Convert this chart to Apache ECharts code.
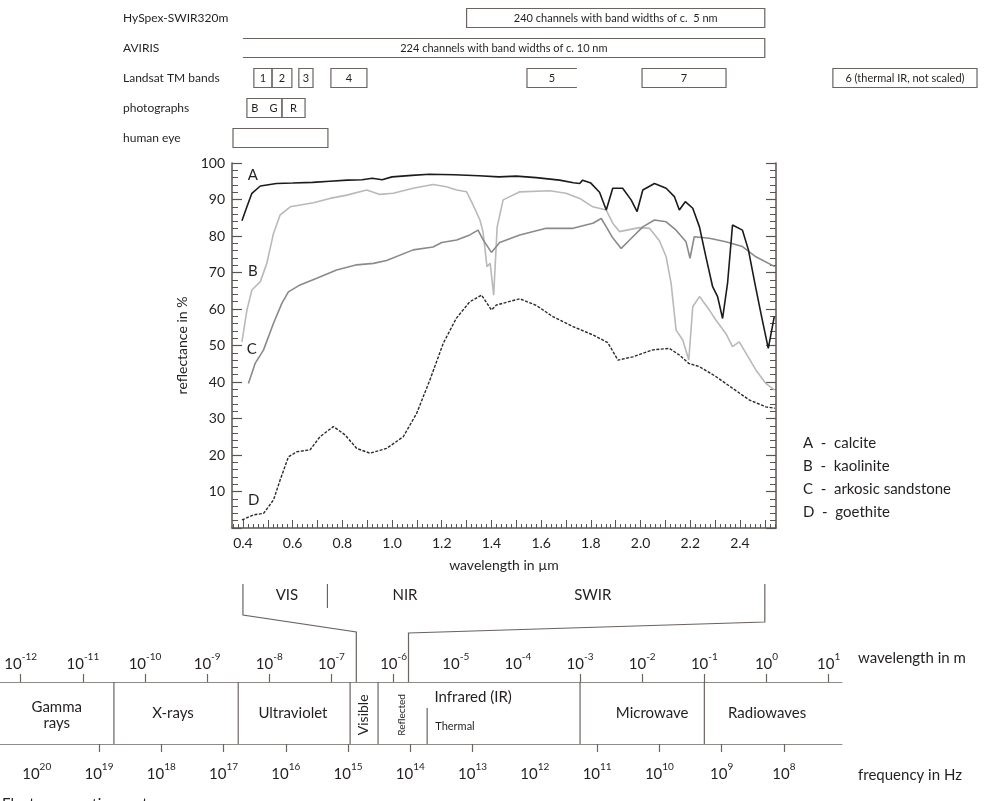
<!DOCTYPE html>
<html><head><meta charset="utf-8">
<script src="https://cdn.jsdelivr.net/npm/echarts@6/dist/echarts.min.js"></script>
<style>html,body{margin:0;padding:0;background:#fff}#c{width:986px;height:801px}</style>
</head><body><div id="c"></div>
<script>
const FONT = 'Lato';
const INK = '#231f20';
const AX = '#5b5551';
const LN = '#6b6461';

// ---------- reflectance spectra: [wavelength in µm, reflectance in %] ----------
const calcite = [[0.396,84.2],[0.416,88.0],[0.436,91.7],[0.47,93.7],[0.535,94.4],[0.60,94.5],[0.68,94.7],[0.75,95.0],[0.82,95.3],[0.88,95.4],[0.92,95.8],[0.96,95.4],[1.0,96.2],[1.08,96.6],[1.15,96.9],[1.25,96.8],[1.35,96.5],[1.43,96.2],[1.50,96.4],[1.58,96.0],[1.674,95.3],[1.73,94.6],[1.755,94.4],[1.767,95.3],[1.80,94.5],[1.835,92.0],[1.862,87.1],[1.888,93.1],[1.928,93.1],[1.962,89.9],[1.986,86.7],[2.009,92.6],[2.056,94.4],[2.103,93.1],[2.136,90.8],[2.156,87.1],[2.18,89.4],[2.21,87.6],[2.237,82.5],[2.263,74.3],[2.29,66.1],[2.31,63.4],[2.33,57.4],[2.35,67.0],[2.37,83.0],[2.41,81.6],[2.434,76.2],[2.46,67.0],[2.487,57.9],[2.514,49.2],[2.538,57.9]];
const kaolinite = [[0.396,51.0],[0.416,59.7],[0.436,65.2],[0.47,67.5],[0.496,72.5],[0.523,80.7],[0.55,85.8],[0.59,88.0],[0.684,89.1],[0.75,90.3],[0.818,91.2],[0.898,92.6],[0.951,91.4],[1.005,91.7],[1.085,93.1],[1.165,94.1],[1.219,93.5],[1.26,92.6],[1.30,92.1],[1.326,88.5],[1.353,84.5],[1.366,81.2],[1.382,71.6],[1.395,72.5],[1.409,63.8],[1.423,82.5],[1.447,89.9],[1.514,92.1],[1.634,92.4],[1.70,91.7],[1.755,90.3],[1.808,88.0],[1.862,87.1],[1.888,83.5],[1.915,81.2],[1.995,82.3],[2.036,82.1],[2.076,78.7],[2.103,74.3],[2.123,67.0],[2.143,54.2],[2.17,51.5],[2.194,46.0],[2.21,60.6],[2.237,63.4],[2.277,59.7],[2.303,57.0],[2.343,53.3],[2.37,49.7],[2.397,51.0],[2.424,47.9],[2.464,43.3],[2.504,39.6],[2.54,37.8]];
const arkosicSandstone = [[0.422,39.6],[0.449,45.1],[0.483,48.8],[0.523,56.1],[0.557,61.6],[0.583,64.7],[0.63,66.6],[0.697,68.4],[0.777,70.7],[0.858,72.1],[0.925,72.5],[0.978,73.3],[1.085,76.2],[1.165,77.0],[1.20,78.2],[1.26,78.9],[1.313,80.3],[1.346,81.6],[1.366,79.0],[1.40,75.5],[1.433,78.2],[1.514,80.3],[1.62,82.1],[1.728,82.1],[1.808,83.5],[1.842,84.8],[1.862,82.5],[1.888,79.5],[1.922,76.6],[1.962,79.3],[2.009,82.5],[2.056,84.4],[2.103,83.9],[2.143,81.6],[2.183,78.4],[2.199,73.9],[2.216,79.8],[2.277,79.4],[2.343,78.4],[2.41,77.1],[2.464,74.3],[2.54,71.6]];
const goethite = [[0.396,2.2],[0.443,3.6],[0.483,4.0],[0.523,7.7],[0.55,13.2],[0.583,19.5],[0.617,20.9],[0.67,21.4],[0.71,25.0],[0.764,27.8],[0.811,25.5],[0.858,21.8],[0.911,20.5],[0.978,21.8],[1.045,25.0],[1.099,31.4],[1.152,40.5],[1.206,50.6],[1.259,57.5],[1.313,62.0],[1.36,63.8],[1.40,59.7],[1.42,61.1],[1.514,62.8],[1.58,61.0],[1.647,57.9],[1.728,55.2],[1.808,52.9],[1.868,50.8],[1.909,46.0],[1.969,46.9],[2.049,48.8],[2.116,49.2],[2.156,47.4],[2.194,45.1],[2.237,44.2],[2.303,41.5],[2.37,38.3],[2.437,35.1],[2.504,33.2],[2.54,32.8]];

const curveTags = [['A',0.44,96.7],['B',0.44,70.5],['C',0.436,49.0],['D',0.443,7.5]];
const legendLines = ['A  -  calcite','B  -  kaolinite','C  -  arkosic sandstone','D  -  goethite'];

const wlLabelValues = [0.4,0.6,0.8,1.0,1.2,1.4,1.6,1.8,2.0,2.2,2.4];
const wlMajorTicks = [0.4,0.5,0.6,0.7,0.8,0.9,1.0,1.1,1.2,1.3,1.4,1.5,1.6,1.7,1.8,1.9,2.0,2.1,2.2,2.3,2.4,2.5];
const wlMinorTicks = [];
for (let i = 18; i <= 127; i++) { if (i % 5 !== 0) wlMinorTicks.push(+(i * 0.02).toFixed(2)); }

// ---------- sensors ----------
const sensorRows = ['HySpex-SWIR320m','AVIRIS','Landsat TM bands','photographs','human eye'];
// [start µm, end µm, row, text, open side]
const sensorBoxes = [
  [1.30, 2.50, 0, '240 channels with band widths of c.  5 nm', ''],
  [0.40, 2.50, 1, '224 channels with band widths of c. 10 nm', 'left'],
  [0.444, 0.517, 2, '1', ''],
  [0.517, 0.597, 2, '2', ''],
  [0.625, 0.682, 2, '3', ''],
  [0.754, 0.899, 2, '4', ''],
  [1.543, 1.744, 2, '5', 'right'],
  [2.006, 2.344, 2, '7', ''],
  [2.774, 3.354, 2, '6 (thermal IR, not scaled)', ''],
  [0.416, 0.557, 3, 'B    G', ''],
  [0.557, 0.650, 3, 'R', ''],
  [0.360, 0.742, 4, '', '']
];

// ---------- electromagnetic spectrum (log10 of wavelength in m / frequency in Hz) ----------
const emWlLabels = [-12,-11,-10,-9,-8,-7,-6,-5,-4,-3,-2,-1,0,1];
const emWlTicks = [-12,-11,-10,-9,-8,-7,-6,-3,-2,-1,0,1];
const emFreqLabels = [20,19,18,17,16,15,14,13,12,11,10,9,8];
const emFreqTicks = [19,18,17,16,15,14,13,11,10,9,8];
const emBoundaries = [-10.5,-8.5,-6.7,-6.25,-3.0,-1.0];
const emThermalSplit = -5.46;
// [text, log10 wavelength, height fraction, rotated, font size, align]
const emLabels = [
  ['Gamma\nrays', -11.42, 0.47, false, 15, 'center'],
  ['X-rays', -9.55, 0.5, false, 15, 'center'],
  ['Ultraviolet', -7.62, 0.5, false, 15, 'center'],
  ['Visible', -6.49, 0.47, true, 14, 'center'],
  ['Reflected', -5.865, 0.47, true, 10, 'center'],
  ['Infrared (IR)', -4.72, 0.76, false, 15, 'center'],
  ['Thermal', -5.33, 0.29, false, 11, 'left'],
  ['Microwave', -1.84, 0.5, false, 15, 'center'],
  ['Radiowaves', 0.01, 0.5, false, 15, 'center']
];
// zoom link between reflectance axis (µm) and spectrum (log10 m)
const zoomRange = [0.40, 0.74, 2.50];
const zoomLinkExp = [-6.6, -5.76];
const rangeLabels = [['VIS', 0.577], ['NIR', 1.052], ['SWIR', 1.808]];

const chart = echarts.init(document.getElementById('c'), null, {renderer: 'canvas'});
const txt = (size) => ({color: INK, fontFamily: FONT, fontSize: size});
const supRich = {
  b: {fontSize: 15, fontFamily: FONT, color: INK, lineHeight: 24},
  s: {fontSize: 10, fontFamily: FONT, color: INK, lineHeight: 10, verticalAlign: 'top'}
};

const option = {
  animation: false,
  backgroundColor: '#fff',
  grid: [
    {left: 232, top: 163, width: 544, height: 365},
    {left: 232, top: 3, width: 748, height: 150},
    {left: 0, top: 682, width: 842, height: 62}
  ],
  xAxis: [
    {gridIndex: 0, type: 'value', min: 0.356, max: 2.545, position: 'bottom',
     axisLine: {show: true, onZero: false, lineStyle: {color: AX, width: 1.5}},
     axisTick: {show: true, inside: true, length: 8, customValues: wlMajorTicks, lineStyle: {color: AX, width: 1}},
     axisLabel: {customValues: wlLabelValues, formatter: v => v.toFixed(1), margin: 8, ...txt(14)},
     splitLine: {show: false},
     name: 'wavelength in µm', nameLocation: 'middle', nameGap: 30, nameTextStyle: txt(14)},
    {gridIndex: 0, type: 'value', min: 0.356, max: 2.545, position: 'bottom',
     axisLine: {show: false, onZero: false},
     axisTick: {show: true, inside: true, length: 4, customValues: wlMinorTicks, lineStyle: {color: AX, width: 1}},
     axisLabel: {show: false}, splitLine: {show: false}},
    {gridIndex: 1, type: 'value', min: 0.356, max: 3.366, show: false},
    {gridIndex: 2, type: 'value', min: -12.333, max: 1.215, position: 'top',
     axisLine: {show: true, onZero: false, lineStyle: {color: '#8e8a88', width: 1}},
     axisTick: {show: true, inside: false, length: 8, customValues: emWlTicks, lineStyle: {color: LN, width: 1.2}},
     axisLabel: {customValues: emWlLabels, formatter: v => '{b|10}{s|' + v + '}', rich: supRich, margin: 6},
     splitLine: {show: false}},
    {gridIndex: 2, type: 'value', min: 7.068, max: 20.589, inverse: true, position: 'bottom',
     axisLine: {show: true, onZero: false, lineStyle: {color: '#8e8a88', width: 1}},
     axisTick: {show: true, inside: false, length: 8, customValues: emFreqTicks, lineStyle: {color: LN, width: 1.2}},
     axisLabel: {customValues: emFreqLabels, formatter: v => '{b|10}{s|' + v + '}', rich: supRich, margin: 18},
     splitLine: {show: false}}
  ],
  yAxis: [
    {gridIndex: 0, type: 'value', min: 0, max: 100, interval: 10, position: 'left',
     axisLine: {show: true, onZero: false, lineStyle: {color: AX, width: 1.5}},
     axisTick: {show: true, inside: true, length: 10, lineStyle: {color: AX, width: 1.2}},
     minorTick: {show: true, splitNumber: 5, length: 6, lineStyle: {color: AX, width: 1}},
     axisLabel: {formatter: v => v === 0 ? '' : String(v), margin: 7, ...txt(14)},
     splitLine: {show: false},
     name: 'reflectance in %', nameLocation: 'middle', nameGap: 38, nameTextStyle: txt(14)},
    {gridIndex: 0, type: 'value', min: 0, max: 100, interval: 10, position: 'right',
     axisLine: {show: true, onZero: false, lineStyle: {color: AX, width: 1.5}},
     axisTick: {show: true, inside: true, length: 10, lineStyle: {color: AX, width: 1.2}},
     minorTick: {show: true, splitNumber: 5, length: 6, lineStyle: {color: AX, width: 1}},
     axisLabel: {show: false}, splitLine: {show: false}},
    {gridIndex: 1, type: 'category', data: sensorRows, inverse: true,
     axisLine: {show: false, onZero: false}, axisTick: {show: false},
     axisLabel: {align: 'left', margin: 109, ...txt(12)}},
    {gridIndex: 2, type: 'value', min: 0, max: 1, show: false, axisLine: {onZero: false}}
  ],
  series: [
    {name: 'B', type: 'line', xAxisIndex: 0, yAxisIndex: 0, data: kaolinite, symbol: 'none', lineStyle: {color: '#b9b9b9', width: 1.6}, z: 3},
    {name: 'C', type: 'line', xAxisIndex: 0, yAxisIndex: 0, data: arkosicSandstone, symbol: 'none', lineStyle: {color: '#8a8a8a', width: 1.6}, z: 3},
    {name: 'D', type: 'line', xAxisIndex: 0, yAxisIndex: 0, data: goethite, symbol: 'none', lineStyle: {color: '#2a2a2a', width: 1.4, type: [3, 1.5]}, z: 3},
    {name: 'A', type: 'line', xAxisIndex: 0, yAxisIndex: 0, data: calcite, symbol: 'none', lineStyle: {color: '#1b1b1b', width: 1.6}, z: 4},
    {type: 'custom', xAxisIndex: 2, yAxisIndex: 2, data: sensorBoxes.map(b => [b[0], b[1], b[2]]),
     encode: {x: [0, 1], y: 2},
     renderItem: (params, api) => {
       const b = sensorBoxes[params.dataIndex];
       const p0 = api.coord([api.value(0), api.value(2)]);
       const p1 = api.coord([api.value(1), api.value(2)]);
       const h = 19;
       const x0 = p0[0], x1 = p1[0], yT = p0[1] - h / 2, yB = p0[1] + h / 2;
       const st = {stroke: LN, lineWidth: 1.2, fill: null};
       let shape;
       if (b[4] === 'left') shape = {type: 'polyline', shape: {points: [[x0, yT], [x1, yT], [x1, yB], [x0, yB]]}, style: st};
       else if (b[4] === 'right') shape = {type: 'polyline', shape: {points: [[x1, yT], [x0, yT], [x0, yB], [x1, yB]]}, style: st};
       else shape = {type: 'rect', shape: {x: x0, y: yT, width: x1 - x0, height: h}, style: st};
       return {type: 'group', children: [shape,
         {type: 'text', style: {text: b[3], x: (x0 + x1) / 2, y: p0[1], align: 'center', verticalAlign: 'middle', fill: INK, font: '11px ' + FONT}}]};
     }},
    {type: 'custom', xAxisIndex: 3, yAxisIndex: 3,
     data: emBoundaries.map(v => [v, 0, 1]).concat([[emThermalSplit, 0, 0.58]]),
     renderItem: (params, api) => {
       const a = api.coord([api.value(0), api.value(1)]);
       const b = api.coord([api.value(0), api.value(2)]);
       return {type: 'line', shape: {x1: a[0], y1: a[1], x2: b[0], y2: b[1]}, style: {stroke: LN, lineWidth: 1.2}};
     }},
    {type: 'custom', xAxisIndex: 3, yAxisIndex: 3,
     data: emLabels.map(l => [l[1], l[2]]),
     renderItem: (params, api) => {
       const l = emLabels[params.dataIndex];
       const p = api.coord([api.value(0), api.value(1)]);
       return {type: 'text', x: p[0], y: p[1], rotation: l[3] ? Math.PI / 2 : 0,
         style: {text: l[0], x: 0, y: 0, align: l[5], verticalAlign: 'middle', fill: INK, font: l[4] + 'px ' + FONT, lineHeight: 16}};
     }}
  ]
};
chart.setOption(option);

// annotations positioned through the axes' own scales
const px = v => chart.convertToPixel({xAxisIndex: 0}, v);
const sx = v => chart.convertToPixel({xAxisIndex: 3}, v);
const pxy = (x, y) => chart.convertToPixel({xAxisIndex: 0, yAxisIndex: 0}, [x, y]);
const spTop = chart.convertToPixel({yAxisIndex: 3}, 1);
const lineStyle = {stroke: LN, lineWidth: 1.2, fill: null};
const g = [];
g.push({type: 'polyline', shape: {points: [[px(zoomRange[0]), 584], [px(zoomRange[0]), 615], [sx(zoomLinkExp[0]), 632], [sx(zoomLinkExp[0]), spTop]]}, style: lineStyle});
g.push({type: 'polyline', shape: {points: [[sx(zoomLinkExp[1]), spTop], [sx(zoomLinkExp[1]), 633], [px(zoomRange[2]), 622], [px(zoomRange[2]), 584]]}, style: lineStyle});
g.push({type: 'line', shape: {x1: px(zoomRange[1]), y1: 584, x2: px(zoomRange[1]), y2: 608}, style: lineStyle});
rangeLabels.forEach(r => g.push({type: 'text', style: {text: r[0], x: px(r[1]), y: 595, align: 'center', verticalAlign: 'middle', fill: INK, font: '15px ' + FONT}}));
curveTags.forEach(t => { const p = pxy(t[1], t[2]); g.push({type: 'text', style: {text: t[0], x: p[0], y: p[1], align: 'center', verticalAlign: 'middle', fill: INK, font: '15px ' + FONT}}); });
legendLines.forEach((t, i) => g.push({type: 'text', style: {text: t, x: 803, y: 443 + i * 23, align: 'left', verticalAlign: 'middle', fill: INK, font: '15px ' + FONT}}));
g.push({type: 'text', style: {text: 'wavelength in m', x: 858, y: 658, align: 'left', verticalAlign: 'middle', fill: INK, font: '15px ' + FONT}});
g.push({type: 'text', style: {text: 'frequency in Hz', x: 858, y: 775, align: 'left', verticalAlign: 'middle', fill: INK, font: '15px ' + FONT}});
g.push({type: 'text', style: {text: 'Electromagnetic spectrum', x: 2, y: 797, align: 'left', verticalAlign: 'top', fill: INK, font: '15px ' + FONT}});
chart.setOption({graphic: g});
</script>
</body></html>
